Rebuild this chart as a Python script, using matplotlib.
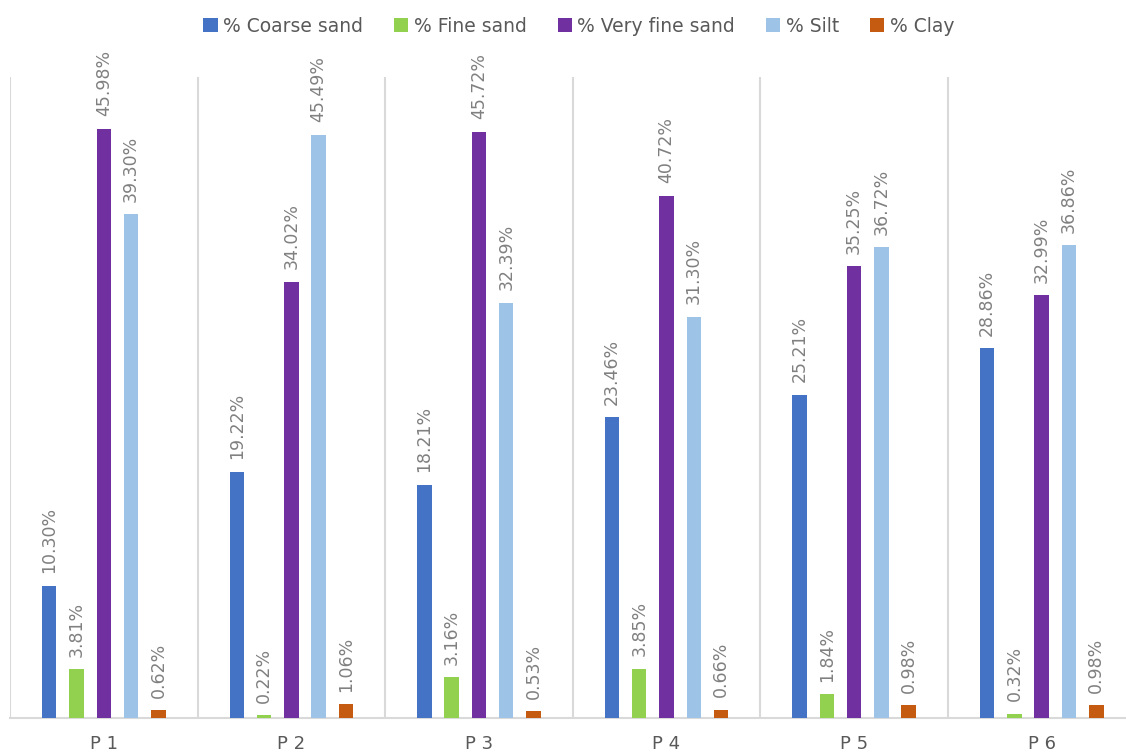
import matplotlib
matplotlib.use("Agg")
import matplotlib.pyplot as plt
import numpy as np

# data
sites = ["P 1", "P 2", "P 3", "P 4", "P 5", "P 6"]
series = ["% Coarse sand", "% Fine sand", "% Very fine sand", "% Silt", "% Clay"]
coarse = [10.30, 19.22, 18.21, 23.46, 25.21, 28.86]
fine = [3.81, 0.22, 3.16, 3.85, 1.84, 0.32]
very_fine = [45.98, 34.02, 45.72, 40.72, 35.25, 32.99]
silt = [39.30, 45.49, 32.39, 31.30, 36.72, 36.86]
clay = [0.62, 1.06, 0.53, 0.66, 0.98, 0.98]
colors = ["#4472C4", "#92D050", "#7030A0", "#9DC3E6", "#C55A11"]

values = [coarse, fine, very_fine, silt, clay]

fig = plt.figure(figsize=(11.26, 7.56), dpi=100)
# axes runs a little past the right edge, like the cropped original
ax = fig.add_axes([10 / 1126, 38 / 756, 1125.5 / 1126, 641 / 756])

x = np.arange(len(sites))
step = 0.1455
width = 0.077
for i, (name, vals, c) in enumerate(zip(series, values, colors)):
    pos = x + (i - 2) * step
    bars = ax.bar(pos, vals, width, color=c, label=name, zorder=3)
    for b, v in zip(bars, vals):
        ax.annotate(f"{v:.2f}%", (b.get_x() + b.get_width() / 2, v),
                    xytext=(0, 9), textcoords="offset points",
                    rotation=90, ha="center", va="bottom",
                    fontsize=12.5, color="#808080")

ax.set_xlim(-0.5, len(sites) - 0.5)
ax.set_ylim(0, 50)
ax.set_yticks([])
ax.set_xticks(x)
ax.set_xticklabels(sites, fontsize=13, color="#595959")
ax.tick_params(axis="x", length=0, pad=12)
ax.set_xticks(np.arange(-0.5, len(sites)), minor=True)
ax.tick_params(axis="x", which="minor", length=0)
ax.grid(axis="x", which="minor", color="#d9d9d9", linewidth=1.5, zorder=0)
for s in ["top", "left", "right"]:
    ax.spines[s].set_visible(False)
ax.spines["bottom"].set_color("#d9d9d9")
ax.spines["bottom"].set_linewidth(1.5)

fig.legend(loc="upper center", bbox_to_anchor=(0.514, 1.0), ncol=5,
           frameon=False, fontsize=13.5, labelcolor="#595959",
           handlelength=0.75, handleheight=0.75, handletextpad=0.3,
           columnspacing=1.65)

fig.savefig("out.png", dpi=100)
